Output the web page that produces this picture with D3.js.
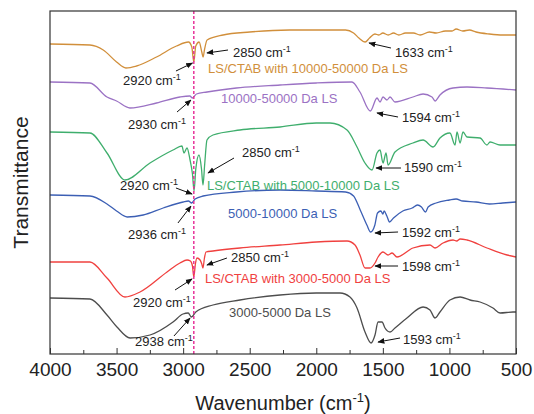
<!DOCTYPE html>
<html>
<head>
<meta charset="utf-8">
<script src="https://cdn.jsdelivr.net/npm/d3@7"></script>
<style>
  body { margin: 0; background: #fff; }
  svg { font-family: "Liberation Sans", Arial, sans-serif; }
</style>
</head>
<body>
<div id="chart"></div>
<script>
// wavenumber (cm-1) and transmittance (a.u., stacked)
const wnBlack = [4000, 3700, 3572, 3497, 3399, 3249, 3076, 3001, 2962, 2938, 2905, 2776, 2573, 2272, 2000, 1822, 1747, 1694, 1634, 1589, 1559, 1536, 1506, 1484, 1446, 1409, 1319, 1198, 1146, 1108, 1071, 996, 920, 845, 770, 673, 620, 522, 500];
const tBlack = [5.6, 5.5, 3.9, 2.7, 1.6, 1.9, 3.2, 4.0, 4.1, 3.7, 4.2, 4.9, 5.4, 5.9, 6.1, 6.1, 5.7, 4.6, 2.2, 1.1, 1.9, 3.2, 3.2, 2.6, 2.2, 2.6, 3.6, 4.7, 4.4, 3.6, 4.2, 5.4, 5.7, 5.4, 5.2, 4.6, 4.1, 4.2, 4.2];

const wnRed = [4000, 3700, 3572, 3437, 3324, 3121, 3024, 2971, 2945, 2930, 2920, 2908, 2896, 2873, 2860, 2851, 2840, 2828, 2776, 2573, 2272, 2000, 1769, 1709, 1672, 1634, 1597, 1559, 1536, 1499, 1461, 1431, 1394, 1274, 1146, 1108, 1048, 973, 945, 920, 868, 718, 567, 500];
const tRed = [9.2, 9.2, 7.6, 5.7, 6.2, 8.2, 9.1, 9.4, 9.3, 8.8, 7.7, 9.0, 9.6, 9.4, 9.0, 8.6, 9.6, 10.2, 10.3, 10.6, 10.9, 11.2, 11.3, 10.9, 9.9, 8.6, 8.6, 9.1, 9.7, 10.2, 9.9, 10.1, 9.7, 10.6, 10.9, 10.6, 11.1, 11.4, 11.3, 11.5, 11.4, 10.6, 9.9, 9.7];

const wnBlue = [4000, 3700, 3572, 3500, 3420, 3300, 3150, 3000, 2960, 2936, 2910, 2850, 2600, 2272, 2000, 1780, 1720, 1670, 1620, 1592, 1560, 1540, 1515, 1500, 1490, 1470, 1450, 1420, 1350, 1280, 1240, 1210, 1180, 1160, 1100, 1000, 950, 900, 800, 700, 600, 500];
const tBlue = [15.9, 15.8, 15.0, 14.3, 13.7, 13.9, 14.6, 15.2, 15.3, 15.1, 15.5, 15.8, 16.2, 16.4, 16.3, 16.2, 15.8, 14.4, 12.9, 12.2, 12.9, 14.1, 14.3, 14.0, 14.3, 13.8, 13.2, 13.6, 14.3, 14.6, 14.9, 14.7, 14.2, 14.7, 15.1, 15.4, 15.5, 15.3, 15.2, 15.0, 15.1, 15.2];

const wnGreen = [4000, 3700, 3572, 3437, 3249, 3076, 3009, 2994, 2971, 2948, 2930, 2918, 2905, 2881, 2862, 2851, 2838, 2821, 2776, 2573, 2272, 2000, 1897, 1769, 1694, 1634, 1581, 1544, 1521, 1499, 1476, 1461, 1409, 1274, 1198, 1123, 1071, 996, 958, 943, 920, 898, 868, 770, 718, 695, 620, 500];
const tGreen = [22.2, 22.1, 20.1, 17.4, 19.1, 20.4, 20.8, 20.1, 20.6, 19.4, 18.0, 16.3, 18.5, 19.9, 18.5, 16.9, 19.0, 21.4, 21.9, 22.4, 22.7, 23.1, 23.1, 22.4, 20.7, 19.1, 18.4, 20.1, 20.4, 19.1, 20.1, 18.9, 20.2, 21.1, 21.4, 20.7, 21.6, 22.1, 20.9, 22.2, 21.1, 22.2, 21.7, 21.6, 20.9, 21.2, 20.9, 20.9];

const wnPurple = [4000, 3700, 3572, 3500, 3400, 3200, 3024, 2950, 2930, 2900, 2820, 2600, 2272, 2000, 1732, 1672, 1594, 1544, 1521, 1499, 1469, 1446, 1409, 1274, 1198, 1131, 1108, 1071, 973, 868, 718, 500];
const tPurple = [27.2, 27.1, 25.7, 25.3, 24.6, 25.1, 25.7, 25.8, 25.6, 26.0, 26.2, 26.6, 26.9, 27.1, 27.2, 26.2, 24.3, 25.6, 25.2, 25.7, 25.4, 25.7, 25.2, 25.7, 26.0, 25.7, 25.3, 25.9, 26.6, 26.7, 26.6, 26.4];

const wnOrange = [4000, 3700, 3600, 3500, 3430, 3350, 3200, 3050, 2960, 2935, 2920, 2905, 2880, 2860, 2850, 2840, 2820, 2700, 2500, 2200, 1900, 1780, 1720, 1680, 1633, 1600, 1560, 1530, 1500, 1460, 1420, 1380, 1330, 1270, 1220, 1150, 1100, 1030, 980, 950, 900, 850, 800, 700, 600, 500];
const tOrange = [31.0, 30.9, 30.4, 29.2, 28.6, 28.8, 29.7, 30.8, 31.2, 30.7, 29.2, 30.8, 31.2, 30.2, 29.7, 30.4, 31.4, 31.9, 32.2, 32.4, 32.4, 32.4, 32.1, 31.6, 31.2, 31.6, 32.0, 31.9, 32.1, 31.9, 32.1, 31.9, 32.1, 32.1, 31.9, 32.2, 32.1, 32.3, 32.3, 32.5, 32.3, 32.4, 32.2, 32.0, 31.9, 31.9];

const majorTicks = [4000, 3500, 3000, 2500, 2000, 1500, 1000, 500];
const minorTicks = [3750, 3250, 2750, 2250, 1750, 1250, 750];
const markerLine = 2920;

const width = 534, height = 414;
const margin = { top: 11, right: 18, bottom: 60, left: 50 };

const svg = d3.select("#chart").append("svg")
  .attr("width", width)
  .attr("height", height);

const x = d3.scaleLinear().domain([4000, 500]).range([margin.left, width - margin.right]);
const y = d3.scaleLinear().domain([0, 34.3]).range([height - margin.bottom, margin.top]);

const series = [
  { wn: wnBlack, t: tBlack, color: "#4d4d4d" },
  { wn: wnRed, t: tRed, color: "#f0413f" },
  { wn: wnBlue, t: tBlue, color: "#3c5fb4" },
  { wn: wnGreen, t: tGreen, color: "#3fae6d" },
  { wn: wnPurple, t: tPurple, color: "#9b72c4" },
  { wn: wnOrange, t: tOrange, color: "#d18f3b" }
];

const line = d3.line()
  .x(d => x(d[0]))
  .y(d => y(d[1]))
  .curve(d3.curveMonotoneX);

series.forEach(s => {
  svg.append("path")
    .datum(s.wn.map((w, i) => [w, s.t[i]]))
    .attr("fill", "none")
    .attr("stroke", s.color)
    .attr("stroke-width", 1.3)
    .attr("d", line);
});

// dashed marker at 2920 cm-1
svg.append("line")
  .attr("x1", x(markerLine)).attr("x2", x(markerLine))
  .attr("y1", y.range()[1]).attr("y2", y.range()[0])
  .attr("stroke", "#e8339a")
  .attr("stroke-width", 1.5)
  .attr("stroke-dasharray", "3,2");

// axes
svg.append("g")
  .attr("transform", `translate(0,${height - margin.bottom})`)
  .call(d3.axisBottom(x).tickValues(minorTicks).tickSize(-4).tickFormat(""))
  .call(g => g.select(".domain").remove())
  .call(g => g.selectAll("line").attr("stroke", "#333"));

svg.append("g")
  .attr("transform", `translate(0,${height - margin.bottom})`)
  .call(d3.axisBottom(x).tickValues(majorTicks).tickSize(-6).tickPadding(9).tickFormat(d3.format("d")))
  .call(g => g.select(".domain").remove())
  .call(g => g.selectAll("line").attr("stroke", "#333"))
  .call(g => g.selectAll("text")
    .attr("font-size", "19px")
    .attr("fill", "#222")
    .attr("font-family", "Liberation Sans, Arial, sans-serif"));

svg.append("rect")
  .attr("x", margin.left)
  .attr("y", margin.top)
  .attr("width", width - margin.left - margin.right)
  .attr("height", height - margin.top - margin.bottom)
  .attr("fill", "none")
  .attr("stroke", "#333")
  .attr("stroke-width", 1.2);

// axis titles
const xt = svg.append("text")
  .attr("x", (margin.left + width - margin.right) / 2)
  .attr("y", 410)
  .attr("text-anchor", "middle")
  .attr("font-size", "20px")
  .attr("fill", "#222");
xt.append("tspan").text("Wavenumber (cm");
xt.append("tspan").attr("font-size", "13px").attr("dy", -8).text("-1");
xt.append("tspan").attr("dy", 8).text(")");

svg.append("text")
  .attr("transform", `translate(28,${(margin.top + height - margin.bottom) / 2}) rotate(-90)`)
  .attr("text-anchor", "middle")
  .attr("font-size", "21px")
  .attr("fill", "#222")
  .text("Transmittance");

// annotations
const labels = [
  { text: "2920 cm", sup: "-1", wn: 3452, t: 27.4 },
  { text: "2850 cm", sup: "-1", wn: 2626, t: 30.2 },
  { text: "LS/CTAB with 10000-50000 Da LS", wn: 2813, t: 28.6, color: "#d18f3b" },
  { text: "1633 cm", sup: "-1", wn: 1409, t: 30.2 },
  { text: "10000-50000 Da LS", wn: 2716, t: 25.6, color: "#9b72c4" },
  { text: "2930 cm", sup: "-1", wn: 3414, t: 23.0 },
  { text: "1594 cm", sup: "-1", wn: 1356, t: 23.7 },
  { text: "2850 cm", sup: "-1", wn: 2558, t: 20.2 },
  { text: "LS/CTAB with 5000-10000 Da LS", wn: 2821, t: 16.9, color: "#3fae6d" },
  { text: "2920 cm", sup: "-1", wn: 3474, t: 16.9 },
  { text: "1590 cm", sup: "-1", wn: 1341, t: 18.7 },
  { text: "5000-10000 Da LS", wn: 2663, t: 14.1, color: "#3c5fb4" },
  { text: "2936 cm", sup: "-1", wn: 3414, t: 12.0 },
  { text: "1592 cm", sup: "-1", wn: 1356, t: 12.2 },
  { text: "2850 cm", sup: "-1", wn: 2640, t: 9.7 },
  { text: "LS/CTAB with 3000-5000 Da LS", wn: 2836, t: 7.6, color: "#f0413f" },
  { text: "2920 cm", sup: "-1", wn: 3377, t: 5.2 },
  { text: "1598 cm", sup: "-1", wn: 1356, t: 8.8 },
  { text: "3000-5000 Da LS", wn: 2656, t: 4.2, color: "#4d4d4d" },
  { text: "2938 cm", sup: "-1", wn: 3362, t: 1.3 },
  { text: "1593 cm", sup: "-1", wn: 1349, t: 1.5 }
];

const arrows = [
  { from: [3054, 28.3], to: [2930, 29.1] },
  { from: [2663, 30.4], to: [2821, 30.1] },
  { from: [1439, 30.6], to: [1604, 31.1] },
  { from: [3046, 24.2], to: [2941, 25.4] },
  { from: [1386, 23.7], to: [1544, 24.1] },
  { from: [2618, 19.6], to: [2813, 18.1] },
  { from: [3054, 16.6], to: [2933, 16.0] },
  { from: [1364, 18.6], to: [1551, 18.6] },
  { from: [3039, 13.1], to: [2941, 14.8] },
  { from: [1386, 12.2], to: [1559, 12.1] },
  { from: [2671, 9.6], to: [2821, 8.9] },
  { from: [3061, 6.4], to: [2933, 7.5] },
  { from: [1386, 8.8], to: [1559, 8.8] },
  { from: [3069, 1.8], to: [2948, 3.6] },
  { from: [1371, 1.6], to: [1536, 1.2] }
];

svg.append("defs").append("marker")
  .attr("id", "head")
  .attr("viewBox", "0 0 10 10")
  .attr("refX", 9).attr("refY", 5)
  .attr("markerWidth", 7).attr("markerHeight", 7)
  .attr("orient", "auto")
  .append("path")
  .attr("d", "M0,1 L10,5 L0,9 Z")
  .attr("fill", "#111");

svg.selectAll(".arrow")
  .data(arrows)
  .enter()
  .append("line")
  .attr("class", "arrow")
  .attr("x1", d => x(d.from[0])).attr("y1", d => y(d.from[1]))
  .attr("x2", d => x(d.to[0])).attr("y2", d => y(d.to[1]))
  .attr("stroke", "#111")
  .attr("stroke-width", 1)
  .attr("marker-end", "url(#head)");

labels.forEach(l => {
  const t = svg.append("text")
    .attr("x", x(l.wn))
    .attr("y", y(l.t))
    .attr("dy", "0.35em")
    .attr("font-size", "13px")
    .attr("fill", l.color || "#222");
  t.append("tspan").text(l.text);
  if (l.sup) {
    t.append("tspan").attr("font-size", "9px").attr("dy", -5).text(l.sup);
  }
});
</script>
</body>
</html>
